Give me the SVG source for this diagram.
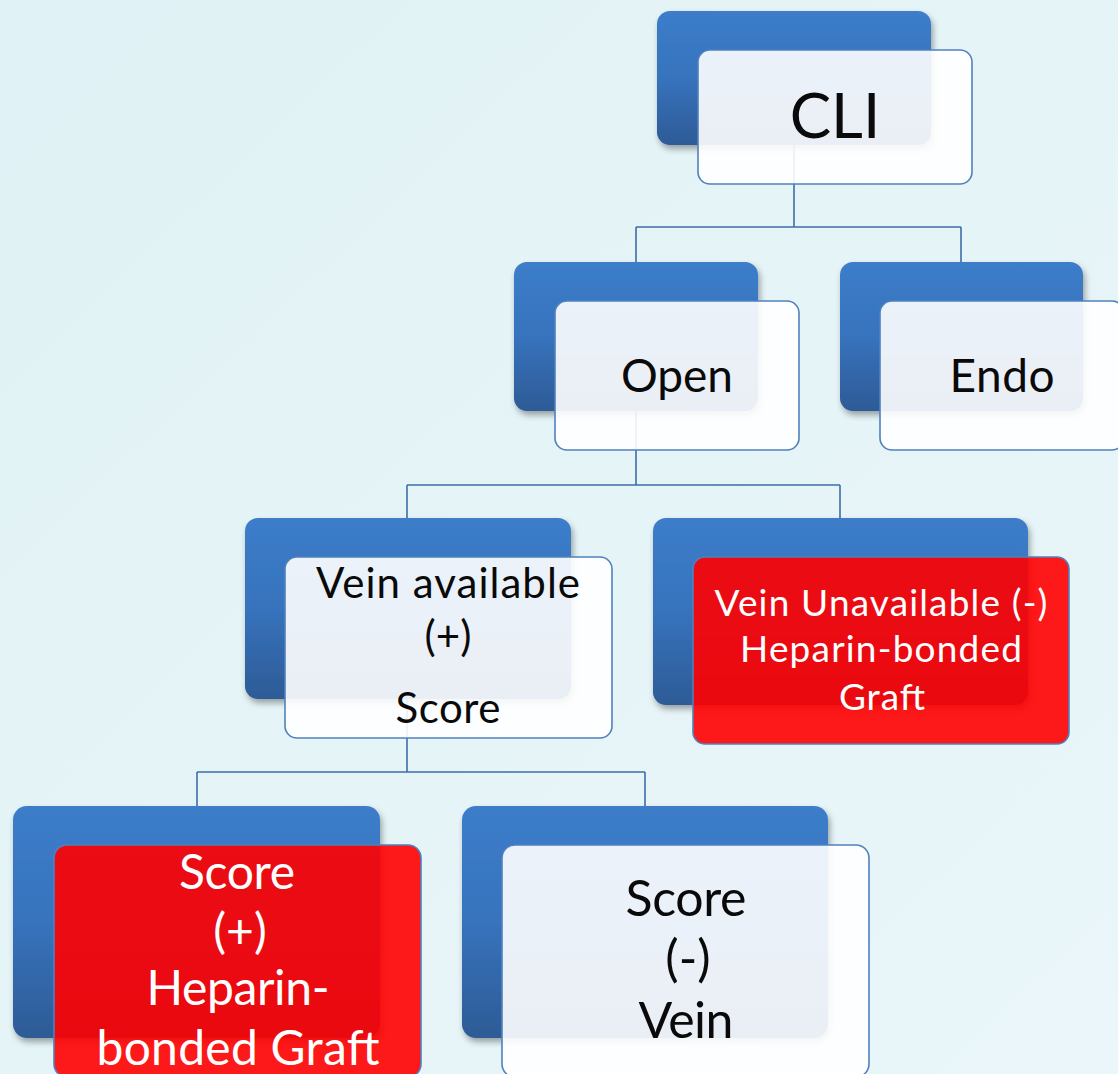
<svg xmlns="http://www.w3.org/2000/svg" width="1118" height="1074" viewBox="0 0 1118 1074">
  <defs>
    <linearGradient id="bg" x1="0" y1="0" x2="1" y2="1">
      <stop offset="0" stop-color="#E0F2F5"/>
      <stop offset="1" stop-color="#EAF6F9"/>
    </linearGradient>
    <linearGradient id="blueFill" x1="0" y1="0" x2="0" y2="1">
      <stop offset="0" stop-color="#3C7DCA"/>
      <stop offset="0.5" stop-color="#3773BD"/>
      <stop offset="1" stop-color="#2D5B96"/>
    </linearGradient>
    <filter id="shadow" x="-10%" y="-10%" width="125%" height="130%">
      <feDropShadow dx="2" dy="4" stdDeviation="3" flood-color="#000000" flood-opacity="0.35"/>
    </filter>
    <style>
      .back { fill: url(#blueFill); filter: url(#shadow); }
      .front { fill: #FFFFFF; fill-opacity: 0.9; stroke: #4F81BD; stroke-width: 1.6; }
      .front.red { fill: #FF0000; fill-opacity: 0.9; }
      .link { fill: none; stroke: #3E6EA8; stroke-width: 1.6; }
      text { font-family: Lato, "Open Sans", "Liberation Sans", sans-serif; text-anchor: middle; fill: #0A0A0A; }
      .light { fill: #FFFFFF; }
    </style>
  </defs>

  <rect x="0" y="0" width="1118" height="1074" fill="url(#bg)"/>

  <!-- tree connectors -->
  <g id="connectors">
    <path class="link" d="M794 145 V227 M636 227 H961 M636 227 V262 M961 227 V262"/>
    <path class="link" d="M636 411 V485 M407 485 H840 M407 485 V518 M840 485 V518"/>
    <path class="link" d="M407 699 V772 M197 772 H645 M197 772 V806 M645 772 V806"/>
  </g>

  <g id="node-cli">
    <rect class="back" x="657" y="11" width="274" height="134" rx="13"/>
    <rect class="front" x="698" y="50" width="274" height="134" rx="12"/>
    <text x="835" y="138" font-size="62">CLI</text>
  </g>

  <g id="node-open">
    <rect class="back" x="514" y="262" width="244" height="149" rx="13"/>
    <rect class="front" x="555" y="301" width="244" height="149" rx="12"/>
    <text x="677" y="392" font-size="46" textLength="112" lengthAdjust="spacing">Open</text>
  </g>

  <g id="node-endo">
    <rect class="back" x="840" y="262" width="243" height="149" rx="13"/>
    <rect class="front" x="880" y="301" width="244" height="149" rx="12"/>
    <text x="1002" y="392" font-size="46" textLength="105" lengthAdjust="spacing">Endo</text>
  </g>

  <g id="node-vein-available">
    <rect class="back" x="245" y="518" width="326" height="181" rx="13"/>
    <rect class="front" x="285" y="557" width="327" height="181" rx="12"/>
    <text x="448" y="598" font-size="42" textLength="264" lengthAdjust="spacing">Vein available</text>
    <text x="448" y="651" font-size="42">(+)</text>
    <text x="448" y="723" font-size="42" textLength="105" lengthAdjust="spacing">Score</text>
  </g>

  <g id="node-vein-unavailable">
    <rect class="back" x="653" y="518" width="375" height="187" rx="13"/>
    <rect class="front red" x="693" y="557" width="376" height="187" rx="12"/>
    <text class="light" x="881" y="616" font-size="37" textLength="333" lengthAdjust="spacing">Vein Unavailable (-)</text>
    <text class="light" x="881" y="662" font-size="37" textLength="282" lengthAdjust="spacing">Heparin-bonded</text>
    <text class="light" x="882" y="710" font-size="37" textLength="86" lengthAdjust="spacing">Graft</text>
  </g>

  <g id="node-score-positive">
    <rect class="back" x="13" y="806" width="367" height="232" rx="14"/>
    <rect class="front red" x="54" y="845" width="367" height="232" rx="13"/>
    <text class="light" x="237" y="889" font-size="48" textLength="116" lengthAdjust="spacing">Score</text>
    <text class="light" x="240" y="948" font-size="48">(+)</text>
    <text class="light" x="238" y="1005" font-size="48" textLength="183" lengthAdjust="spacing">Heparin-</text>
    <text class="light" x="238" y="1065" font-size="48" textLength="283" lengthAdjust="spacing">bonded Graft</text>
  </g>

  <g id="node-score-negative">
    <rect class="back" x="462" y="806" width="366" height="232" rx="14"/>
    <rect class="front" x="502" y="845" width="367" height="232" rx="13"/>
    <text x="686" y="916" font-size="50" textLength="121" lengthAdjust="spacing">Score</text>
    <text x="688" y="976" font-size="50">(-)</text>
    <text x="686" y="1038" font-size="50" textLength="95" lengthAdjust="spacing">Vein</text>
  </g>
</svg>
